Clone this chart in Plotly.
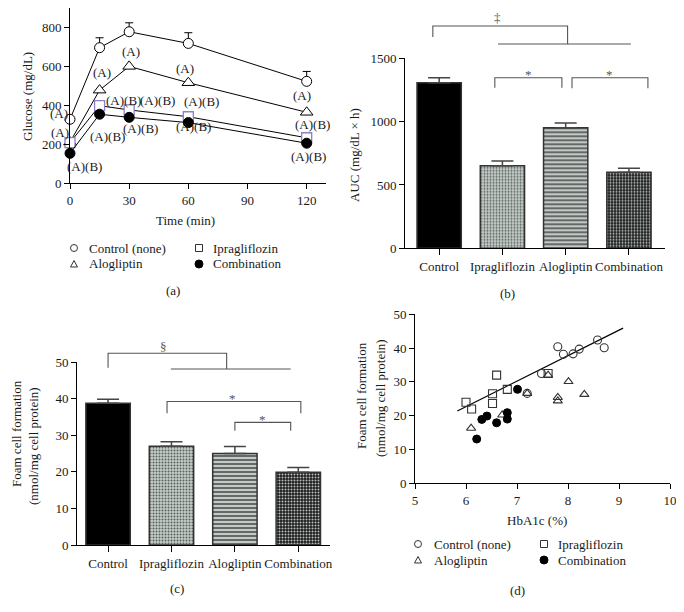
import plotly.graph_objects as go

W, H = 684, 612          # browser window
OFF = 8                  # default page body margin
FW, FH = W - OFF, H - OFF  # figure size so that it ends at the window edge
FONT = "Liberation Serif"
TXT = "#1a1a1a"

# ---------------- data ----------------
# (a) glucose tolerance
time_min = [0, 15, 30, 60, 120]
glu_control = [329, 697, 779, 719, 524]
glu_control_err = [0, 51, 46, 55, 51]
glu_alogliptin = [212, 479, 601, 517, 365]
glu_ipragliflozin = [209, 399, 377, 342, 234]
glu_combination = [154, 355, 339, 312, 206]

# (b) AUC
groups = ["Control", "Ipragliflozin", "Alogliptin", "Combination"]
auc = [1307, 652, 952, 600]
auc_err = [40, 37, 37, 31]

# (c) foam cell formation
foam = [38.7, 27.0, 25.0, 19.9]
foam_err = [1.1, 1.2, 1.9, 1.3]

# (d) HbA1c vs foam cell formation
ctrl_x = [7.80, 7.91, 8.10, 8.22, 8.58, 8.71, 7.48, 7.20]
ctrl_y = [40.4, 38.2, 38.3, 39.7, 42.4, 40.1, 32.5, 26.6]
ipra_x = [6.00, 6.11, 6.60, 6.52, 6.52, 6.81, 7.61]
ipra_y = [24.0, 22.0, 32.0, 26.5, 23.6, 27.8, 32.5]
alog_x = [6.10, 6.71, 7.20, 7.61, 7.80, 7.80, 8.01, 8.32]
alog_y = [16.3, 20.2, 26.6, 32.0, 25.4, 24.4, 30.1, 26.3]
comb_x = [6.21, 6.31, 6.41, 6.60, 6.81, 6.81, 7.01]
comb_y = [13.1, 18.9, 19.9, 17.9, 20.9, 19.0, 27.8]
fit_x = [5.83, 9.08]
fit_y = [21.4, 45.9]

# ---------------- geometry (screen-pixel placement of each panel) ----------------
AX = {
    "a": dict(xr=[0, 130], xpx=(70, 326.4), yr=[0, 900], ypx=(183.3, 8.2)),
    "b": dict(xr=[-0.54, 3.57], xpx=(405, 665), yr=[0, 1500], ypx=(248.3, 58.3)),
    "c": dict(xr=[-0.49, 3.5], xpx=(77, 330), yr=[0, 50], ypx=(545, 362)),
    "d": dict(xr=[5, 10], xpx=(415, 670), yr=[0, 50], ypx=(483.3, 314.3)),
}


def PX(x):
    return (x - OFF) / FW


def PY(y):
    return 1 - (y - OFF) / FH


def xdom(p):
    c = AX[p]
    return [PX(c["xpx"][0]), PX(c["xpx"][1])]


def ydom(p):
    c = AX[p]
    return [PY(c["ypx"][0]), PY(c["ypx"][1])]


def dx(p, v):
    c = AX[p]
    return PX(c["xpx"][0] + (v - c["xr"][0]) / (c["xr"][1] - c["xr"][0]) * (c["xpx"][1] - c["xpx"][0]))


def dy(p, v):
    c = AX[p]
    return PY(c["ypx"][0] + (v - c["yr"][0]) / (c["yr"][1] - c["yr"][0]) * (c["ypx"][1] - c["ypx"][0]))


fig = go.Figure()

# ---------------- (a) ----------------
common_a = dict(xaxis="x", yaxis="y", mode="lines+markers", cliponaxis=False,
                line=dict(color="black", width=1), showlegend=False)
fig.add_trace(go.Scatter(x=time_min, y=glu_control, **common_a,
                         marker=dict(symbol="circle", size=10, color="white",
                                     line=dict(color="black", width=1)),
                         error_y=dict(type="data", array=glu_control_err,
                                      arrayminus=[0] * len(glu_control_err), symmetric=False,
                                      color="black", thickness=1, width=4)))
fig.add_trace(go.Scatter(x=time_min, y=glu_alogliptin, **common_a,
                         marker=dict(symbol="triangle-up", size=11, color="white",
                                     line=dict(color="black", width=1))))
fig.add_trace(go.Scatter(x=time_min, y=glu_ipragliflozin, **common_a,
                         marker=dict(symbol="square", size=10, color="white",
                                     line=dict(color="#8c80c8", width=1.3))))
fig.add_trace(go.Scatter(x=time_min, y=glu_combination, **common_a,
                         marker=dict(symbol="circle", size=10, color="black",
                                     line=dict(color="black", width=1))))

# ---------------- (b) & (c) bars ----------------
bar_bg = ["#000000", "#c6cec9", "#c3cbc7", "#1c1c1c"]
bar_shape = ["", ".", "-", "."]
bar_fg = ["#000000", "#59605c", "#262626", "#bcc4c0"]
bar_size = [4, 3, 4, 3]
bar_sol = [0.3, 0.35, 0.3, 0.35]

for axes, vals, errs in [(("x2", "y2"), auc, auc_err), (("x3", "y3"), foam, foam_err)]:
    for i, g in enumerate(groups):
        pat = dict(shape=bar_shape[i], fgcolor=bar_fg[i], size=bar_size[i],
                   solidity=bar_sol[i], fillmode="overlay", fgopacity=1)
        fig.add_trace(go.Bar(
            x=[g], y=[vals[i]], xaxis=axes[0], yaxis=axes[1], width=0.7,
            marker=dict(color=bar_bg[i], line=dict(color="#333333", width=1.5), pattern=pat),
            showlegend=False,
            error_y=dict(type="data", array=[errs[i]], arrayminus=[0], symmetric=False,
                         color="#444", thickness=1.5, width=11)))

# ---------------- (d) scatter ----------------
common_d = dict(xaxis="x4", yaxis="y4", mode="markers", cliponaxis=False, showlegend=False)
fig.add_trace(go.Scatter(x=fit_x, y=fit_y, xaxis="x4", yaxis="y4", mode="lines",
                         line=dict(color="black", width=1.2), showlegend=False))
fig.add_trace(go.Scatter(x=ctrl_x, y=ctrl_y, **common_d,
                         marker=dict(symbol="circle", size=8, color="rgba(255,255,255,0)",
                                     line=dict(color="#333", width=1.1))))
fig.add_trace(go.Scatter(x=ipra_x, y=ipra_y, **common_d,
                         marker=dict(symbol="square", size=8, color="rgba(255,255,255,0)",
                                     line=dict(color="#333", width=1.1))))
fig.add_trace(go.Scatter(x=alog_x, y=alog_y, **common_d,
                         marker=dict(symbol="triangle-up", size=8, color="rgba(255,255,255,0)",
                                     line=dict(color="#333", width=1.1))))
fig.add_trace(go.Scatter(x=comb_x, y=comb_y, **common_d,
                         marker=dict(symbol="circle", size=8, color="black",
                                     line=dict(color="black", width=1))))

# ---------------- axes ----------------
tickfont = dict(family=FONT, size=13, color=TXT)


def axis(p, which, **kw):
    c = AX[p]
    base = dict(showline=True, linecolor="black", linewidth=1, ticks="outside",
                ticklen=5, tickwidth=1, tickcolor="black", showgrid=False,
                zeroline=False, tickfont=tickfont, fixedrange=True, automargin=False)
    if which == "x":
        base.update(domain=xdom(p), range=c["xr"])
    else:
        base.update(domain=ydom(p), range=c["yr"])
    base.update(kw)
    return base


fig.update_layout(
    template="none",
    xaxis=axis("a", "x", anchor="y", tickvals=[0, 30, 60, 90, 120]),
    yaxis=axis("a", "y", anchor="x", tickvals=[0, 200, 400, 600, 800]),
    xaxis2=axis("b", "x", anchor="y2", type="category", ticklen=6, tickangle=0),
    yaxis2=axis("b", "y", anchor="x2", tickvals=[0, 500, 1000, 1500]),
    xaxis3=axis("c", "x", anchor="y3", type="category", ticklen=6, tickangle=0),
    yaxis3=axis("c", "y", anchor="x3", tickvals=[0, 10, 20, 30, 40, 50]),
    xaxis4=axis("d", "x", anchor="y4", tickvals=[5, 6, 7, 8, 9, 10]),
    yaxis4=axis("d", "y", anchor="x4", tickvals=[0, 10, 20, 30, 40, 50]),
)

# ---------------- annotations ----------------
ann = []


def text(x, y, s, size=13, xanchor="center", angle=0, color=TXT):
    ann.append(dict(x=x, y=y, xref="paper", yref="paper", text=s, showarrow=False,
                    xanchor=xanchor, yanchor="middle", textangle=angle,
                    font=dict(family=FONT, size=size, color=color)))


# (a) significance letters, positioned in data units of panel (a)
a_labels = [
    ("(A)", -5.6, 358), ("(A)", -5.1, 262), ("(A)(B)", 7.1, 84), ("(A)", 16.2, 567),
    ("(A)(B)", 26.9, 428), ("(A)(B)", 44.6, 428), ("(A)(B)", 18.8, 238),
    ("(A)(B)", 35.5, 284), ("(A)", 30.9, 675), ("(A)", 58.3, 592),
    ("(A)(B)", 66.9, 418), ("(A)(B)", 62.4, 290), ("(A)", 117.6, 453),
    ("(A)(B)", 122.7, 300), ("(A)(B)", 120.7, 140),
]
for s, tx, ty in a_labels:
    text(dx("a", tx), dy("a", ty), s)

# titles
text(PX(185), PY(220), "Time (min)")
text(PX(27), PY(97), "Glucose (mg/dL)", angle=-90)
text(PX(355), PY(155), "AUC (mg/dL × h)", angle=-90)
text(PX(16), PY(434), "Foam cell formation", angle=-90)
text(PX(33), PY(446), "(nmol/mg cell protein)", angle=-90)
text(PX(362), PY(396), "Foam cell formation", angle=-90)
text(PX(380), PY(398), "(nmol/mg cell protein)", angle=-90)
text(PX(537), PY(520), "HbA1c (%)")

# panel letters
text(PX(173), PY(290), "(a)")
text(PX(507), PY(293), "(b)")
text(PX(177), PY(588), "(c)")
text(PX(517), PY(590), "(d)")

# significance symbols
SIG = "#555555"
text(dx("b", 0.92), PY(18), "‡", color=SIG)
text(dx("b", 1.41), PY(75), "*", color=SIG)
text(dx("b", 2.70), PY(75), "*", color=SIG)
text(dx("c", 0.88), PY(346), "§", color=SIG)
text(dx("c", 1.96), PY(398), "*", color=SIG)
text(dx("c", 2.43), PY(419), "*", color=SIG)

# legends
leg_rows_a = (248, 264)
leg_rows_d = (544, 560)
legend_items = [("Control (none)", 0, 0), ("Ipragliflozin", 1, 0),
                ("Alogliptin", 0, 1), ("Combination", 1, 1)]
for (mx0, tx0, mx1, tx1, rows) in [(74, 87, 199, 211, leg_rows_a),
                                   (418, 432, 544, 556, leg_rows_d)]:
    for label, col, row in legend_items:
        text(PX(tx0 if col == 0 else tx1), PY(rows[row]), label, xanchor="left")

shapes = []


def seg_path(p, pts):
    d = "M " + " L ".join(f"{dx(p, x):.5f},{dy(p, y):.5f}" for x, y in pts)
    shapes.append(dict(type="path", xref="paper", yref="paper", path=d,
                       line=dict(color="#555", width=1.1)))


# (b) brackets
seg_path("b", [(-0.1, 1668), (-0.1, 1755), (2.03, 1755), (2.03, 1613)])
seg_path("b", [(0.93, 1613), (3.03, 1613)])
seg_path("b", [(0.88, 1268), (0.88, 1347), (1.94, 1347), (1.94, 1268)])
seg_path("b", [(2.10, 1263), (2.10, 1347), (3.30, 1347), (3.30, 1263)])
# (c) brackets
seg_path("c", [(0.0, 48.4), (0.0, 52.4), (1.87, 52.4), (1.87, 48.1)])
seg_path("c", [(0.99, 48.1), (2.88, 48.1)])
seg_path("c", [(0.93, 36.0), (0.93, 39.2), (3.04, 39.2), (3.04, 36.0)])
seg_path("c", [(2.0, 31.2), (2.0, 33.5), (2.88, 33.5), (2.88, 31.2)])

# legend symbols
r = 3.5
for (mx0, mx1, rows) in [(74, 199, leg_rows_a), (418, 544, leg_rows_d)]:
    cy0, cy1 = rows
    shapes.append(dict(type="circle", xref="paper", yref="paper",
                       x0=PX(mx0 - r), x1=PX(mx0 + r), y0=PY(cy0 + r), y1=PY(cy0 - r),
                       line=dict(color="#333", width=1)))
    shapes.append(dict(type="rect", xref="paper", yref="paper",
                       x0=PX(mx1 - r), x1=PX(mx1 + r), y0=PY(cy0 + r), y1=PY(cy0 - r),
                       line=dict(color="#333", width=1)))
    shapes.append(dict(type="path", xref="paper", yref="paper",
                       path=f"M {PX(mx0 - r):.5f},{PY(cy1 + 3):.5f} L {PX(mx0 + r):.5f},{PY(cy1 + 3):.5f} "
                            f"L {PX(mx0):.5f},{PY(cy1 - 3.5):.5f} Z",
                       line=dict(color="#333", width=1)))
    shapes.append(dict(type="circle", xref="paper", yref="paper",
                       x0=PX(mx1 - r - 0.5), x1=PX(mx1 + r + 0.5), y0=PY(cy1 + r + 0.5),
                       y1=PY(cy1 - r - 0.5), fillcolor="black", line=dict(color="black", width=1)))

fig.update_layout(
    width=FW, height=FH, margin=dict(l=0, r=0, t=0, b=0, pad=0, autoexpand=False),
    paper_bgcolor="white", plot_bgcolor="white",
    font=dict(family=FONT, size=13, color=TXT),
    annotations=ann, shapes=shapes, showlegend=False, barmode="overlay",
)

fig.write_html("out.html")
